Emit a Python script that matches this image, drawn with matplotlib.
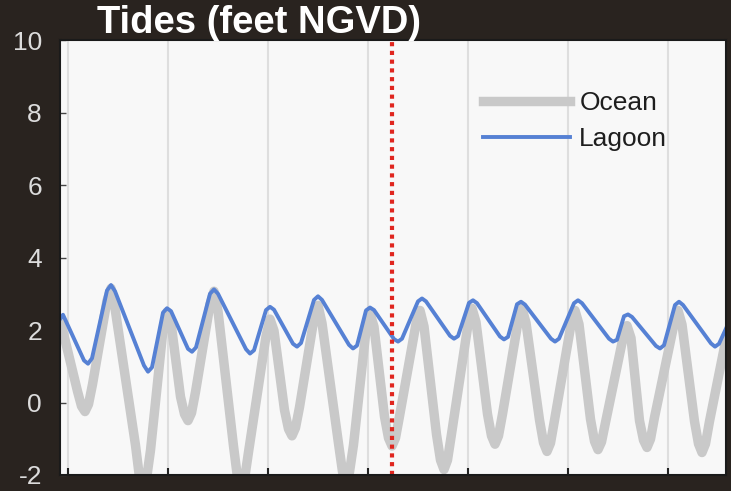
import matplotlib.pyplot as plt
import numpy as np

plt.rcParams['axes.unicode_minus'] = False

# time in days, water level in feet NGVD
ocean_t = [-0.08, 0.095, 0.135, 0.17, 0.205, 0.245,
           0.39, 0.43, 0.47,
           0.675, 0.715, 0.75, 0.785, 0.825,
           0.95, 0.99, 1.03,
           1.125, 1.165, 1.20, 1.235, 1.275,
           1.42, 1.46, 1.50,
           1.655, 1.695, 1.73, 1.765, 1.805,
           1.98, 2.02, 2.06,
           2.165, 2.205, 2.24, 2.275, 2.315,
           2.46, 2.50, 2.54,
           2.705, 2.745, 2.78, 2.815, 2.855,
           2.98, 3.02, 3.06,
           3.165, 3.205, 3.24, 3.275, 3.315,
           3.48, 3.52, 3.56,
           3.685, 3.725, 3.76, 3.795, 3.835,
           4.00, 4.04, 4.08,
           4.195, 4.235, 4.27, 4.305, 4.345,
           4.50, 4.54, 4.58,
           4.715, 4.755, 4.79, 4.825, 4.865,
           5.03, 5.07, 5.11,
           5.225, 5.265, 5.30, 5.335, 5.375,
           5.55, 5.59, 5.63,
           5.715, 5.755, 5.79, 5.825, 5.865,
           6.06, 6.10, 6.14,
           6.265, 6.305, 6.34, 6.375, 6.415,
           6.58]
ocean_h = [2.3, 0.31, -0.10, -0.25, -0.05, 0.50,
           2.81, 3.15, 2.60,
           -1.18, -2.07, -2.4, -2.11, -1.32,
           2.01, 2.5, 2.2,
           0.16, -0.32, -0.5, -0.29, 0.29,
           2.71, 3.07, 2.52,
           -1.2, -2.07, -2.4, -2.12, -1.37,
           1.83, 2.3, 1.98,
           -0.21, -0.73, -0.92, -0.70, -0.13,
           2.32, 2.68, 2.19,
           -1.13, -1.91, -2.2, -1.92, -1.17,
           1.99, 2.46, 2.09,
           -0.39, -0.98, -1.2, -0.98, -0.38,
           2.17, 2.54, 2.10,
           -0.88, -1.59, -1.85, -1.59, -0.87,
           2.15, 2.6, 2.22,
           -0.32, -0.92, -1.15, -0.92, -0.32,
           2.22, 2.6, 2.2,
           -0.48, -1.11, -1.35, -1.12, -0.49,
           2.15, 2.54, 2.16,
           -0.46, -1.07, -1.3, -1.09, -0.55,
           1.78, 2.12, 1.78,
           -0.50, -1.04, -1.24, -1.01, -0.41,
           2.16, 2.54, 2.15,
           -0.52, -1.14, -1.38, -1.14, -0.52,
           1.75]

lagoon_t = [-0.08, -0.05,
            0.16, 0.20, 0.24, 0.39, 0.43, 0.47,
            0.76, 0.80, 0.84, 0.95, 0.99, 1.03,
            1.20, 1.24, 1.28, 1.42, 1.46, 1.50,
            1.78, 1.82, 1.86, 1.98, 2.02, 2.06,
            2.25, 2.29, 2.33, 2.46, 2.50, 2.54,
            2.81, 2.85, 2.89, 2.98, 3.02, 3.06,
            3.26, 3.30, 3.34, 3.50, 3.54, 3.58,
            3.82, 3.86, 3.90, 4.01, 4.05, 4.09,
            4.32, 4.36, 4.40, 4.49, 4.53, 4.57,
            4.83, 4.87, 4.91, 5.06, 5.10, 5.14,
            5.41, 5.45, 5.49, 5.56, 5.60, 5.64,
            5.88, 5.92, 5.96, 6.07, 6.11, 6.15,
            6.43, 6.47, 6.51, 6.58]
lagoon_h = [2.3, 2.42,
            1.16, 1.07, 1.22, 3.09, 3.24, 3.07,
            1.02, 0.85, 0.97, 2.48, 2.6, 2.52,
            1.48, 1.4, 1.52, 3.0, 3.12, 3.0,
            1.47, 1.35, 1.44, 2.55, 2.64, 2.56,
            1.62, 1.54, 1.64, 2.83, 2.93, 2.83,
            1.59, 1.49, 1.57, 2.54, 2.62, 2.55,
            1.75, 1.68, 1.76, 2.79, 2.87, 2.79,
            1.84, 1.76, 1.83, 2.75, 2.82, 2.74,
            1.82, 1.74, 1.81, 2.71, 2.78, 2.70,
            1.76, 1.68, 1.76, 2.74, 2.82, 2.74,
            1.76, 1.68, 1.73, 2.38, 2.43, 2.36,
            1.56, 1.49, 1.58, 2.69, 2.78, 2.69,
            1.63, 1.54, 1.62, 2.04]

now_t = 3.24
day_ticks = [0, 1, 2, 3, 4, 5, 6]
y_ticks = [-2, 0, 2, 4, 6, 8, 10]

bg = '#29231f'
fig = plt.figure(figsize=(7.31, 4.91), dpi=100, facecolor=bg)
ax = fig.add_axes([60/731, 16/491, 666/731, 435/491])
ax.set_facecolor('#f8f8f8')

ax.plot(ocean_t, ocean_h, color='#c9c9c9', lw=6.8, solid_joinstyle='round', label='Ocean')
ax.plot(lagoon_t, lagoon_h, color='#5681d4', lw=2.8, solid_joinstyle='round', label='Lagoon')
ax.axvline(now_t, color='#e0261f', lw=3, linestyle=(0, (1, 1.1)))

ax.set_xlim(-0.08, 6.58)
ax.set_ylim(-2, 10)
ax.set_xticks(day_ticks)
ax.set_yticks(y_ticks)
ax.xaxis.grid(True, color='#dedede', lw=1.5)
ax.set_axisbelow(True)
ax.tick_params(axis='x', direction='in', length=5, width=1.5, color='#222222', labelbottom=False)
ax.tick_params(axis='y', direction='in', length=4, width=1, color='#444444',
               labelsize=19, labelcolor='#dcdcdc', pad=13)
for lab in ax.get_yticklabels():
    lab.set_family('Liberation Sans')
for s in ax.spines.values():
    s.set_color('#1a1a1a')
    s.set_linewidth(1.5)

leg = ax.legend(loc='upper left', bbox_to_anchor=(483/731, 1 - 91/491),
                bbox_transform=fig.transFigure, frameon=False, borderpad=0,
                borderaxespad=0, handlelength=3.3, handletextpad=0.35, labelspacing=0.45,
                prop={'family': 'Liberation Sans', 'size': 19})
for t in leg.get_texts():
    t.set_color('#1e1e1e')

fig.text(97/731, 1 - 33/491, 'Tides (feet NGVD)', color='white', fontsize=27.5,
         fontweight='bold', family='Liberation Sans', ha='left', va='baseline')

fig.savefig('out.png', dpi=100, facecolor=bg)
